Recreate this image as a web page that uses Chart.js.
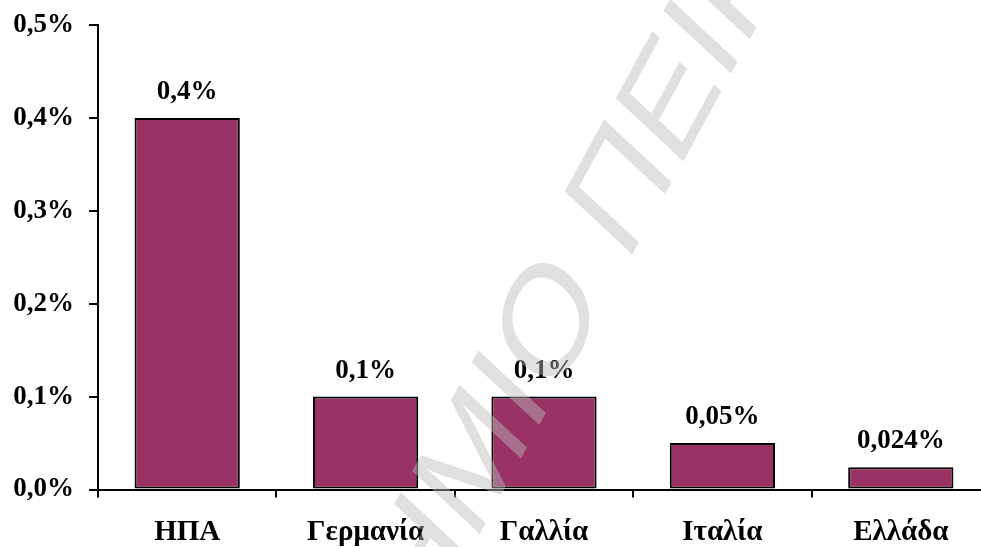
<!DOCTYPE html>
<html>
<head>
<meta charset="utf-8">
<script src="https://cdn.jsdelivr.net/npm/chart.js@4"></script>
<style>
  html, body { margin: 0; padding: 0; overflow: hidden; background: #ffffff; }
  #wrap { width: 992px; height: 547px; position: relative; }
</style>
</head>
<body>
<div id="wrap"><canvas id="chart"></canvas></div>
<script>
// Share of GDP per country (%)
const countries = ['ΗΠΑ', 'Γερμανία', 'Γαλλία', 'Ιταλία', 'Ελλάδα'];
const shares = [0.4, 0.1, 0.1, 0.05, 0.024];
const yTickValues = [0, 0.1, 0.2, 0.3, 0.4, 0.5];
const watermarkLead = 'ΠΑΝΕΠΙΣΤΗΜΙΟ ';
const watermarkTail = 'ΠΕΙΡΑΙΩΣ';

const SERIF = "'Liberation Serif', 'Times New Roman', serif";
const pct = v => String(v).replace('.', ',') + '%';

// value labels above each bar
const barValueLabels = {
  id: 'barValueLabels',
  afterDatasetsDraw(chart) {
    const ctx = chart.ctx;
    const meta = chart.getDatasetMeta(0);
    ctx.save();
    ctx.font = 'bold 27px ' + SERIF;
    ctx.fillStyle = '#000';
    ctx.textAlign = 'center';
    ctx.textBaseline = 'alphabetic';
    meta.data.forEach((bar, i) => {
      ctx.fillText(pct(shares[i]), bar.x, bar.y - 19);
    });
    ctx.restore();
  }
};

// diagonal document watermark drawn over the chart
const watermark = {
  id: 'watermark',
  afterDraw(chart) {
    const ctx = chart.ctx;
    const r = chart.currentDevicePixelRatio || 1;
    ctx.save();
    ctx.font = "100px 'Liberation Sans', Arial, sans-serif";
    const lead = ctx.measureText(watermarkLead).width;
    ctx.setTransform(0.704 * r, -1.291 * r, 0.981 * r, 0.913 * r, 626.6 * r, 264.9 * r);
    ctx.fillStyle = 'rgba(186,186,186,0.45)';
    ctx.textAlign = 'left';
    ctx.textBaseline = 'alphabetic';
    ctx.fillText(watermarkLead + watermarkTail, -lead, 0);
    ctx.restore();
  }
};

new Chart(document.getElementById('chart'), {
  type: 'bar',
  data: {
    labels: countries,
    datasets: [{
      data: shares,
      backgroundColor: '#993366',
      borderColor: '#000000',
      borderWidth: 2,
      borderSkipped: false,
      categoryPercentage: 1,
      barPercentage: 0.59
    }]
  },
  options: {
    responsive: true,
    maintainAspectRatio: false,
    animation: false,
    events: [],
    layout: { padding: { top: 25, right: 2, left: 0, bottom: 0 } },
    plugins: {
      legend: { display: false },
      tooltip: { enabled: false }
    },
    scales: {
      x: {
        grid: {
          display: true,
          drawOnChartArea: false,
          drawTicks: true,
          tickLength: 8,
          color: '#000',
          lineWidth: 2,
          offset: true
        },
        border: { display: true, color: '#000', width: 2 },
        ticks: {
          color: '#000',
          font: { family: SERIF, size: 29, weight: 'bold' },
          padding: 18,
          maxRotation: 0,
          autoSkip: false
        },
        afterFit(scale) { scale.height = 57.5; }
      },
      y: {
        min: 0,
        max: 0.5,
        afterBuildTicks(scale) {
          scale.ticks = yTickValues.map(v => ({ value: v }));
        },
        grid: {
          display: true,
          drawOnChartArea: false,
          drawTicks: true,
          tickLength: 9,
          color: '#000',
          lineWidth: 2
        },
        border: { display: true, color: '#000', width: 2 },
        ticks: {
          color: '#000',
          font: { family: SERIF, size: 27, weight: 'bold' },
          padding: 15,
          callback: v => v.toFixed(1).replace('.', ',') + '%'
        },
        afterFit(scale) {
          scale.width = 98;
          scale.paddingTop = 10;
          scale.paddingBottom = 0;
        }
      }
    }
  },
  plugins: [barValueLabels, watermark]
});
</script>
</body>
</html>
